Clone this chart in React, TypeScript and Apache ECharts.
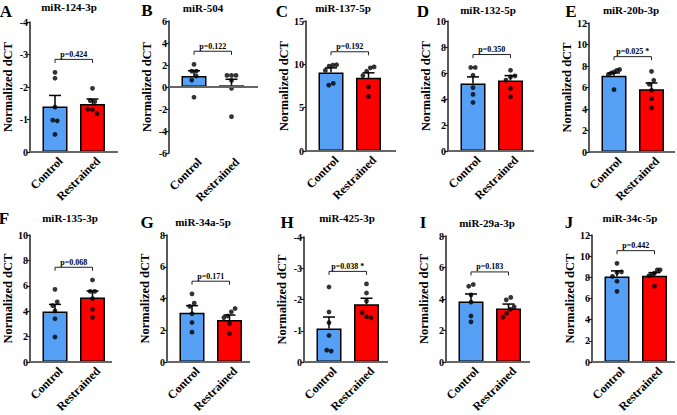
import React, { useEffect, useRef } from "react";
import * as echarts from "echarts";

// ---------- data ----------
const letters = ["A", "B", "C", "D", "E", "F", "G", "H", "I", "J"];
const titles = ["miR-124-3p", "miR-504", "miR-137-5p", "miR-132-5p", "miR-20b-3p", "miR-135-3p", "miR-34a-5p", "miR-425-3p", "miR-29a-3p", "miR-34c-5p"];
const groups = ["Control", "Restrained"];
const yMins = [-4, -6, 0, 0, 0, 0, 0, -4, 0, 0];
const yMaxs = [0, 6, 15, 10, 12, 10, 8, 0, 8, 12];
const yIntervals = [1, 2, 5, 2, 2, 2, 2, 1, 2, 2];
const pLabels = ["p=0.424", "p=0.122", "p=0.192", "p=0.350", "p=0.025 *", "p=0.068", "p=0.171", "p=0.038 *", "p=0.183", "p=0.442"];

const controlMeans = [-1.40, 1.0, 9.05, 5.19, 7.1, 3.97, 3.1, -1.07, 3.85, 8.09];
const restrainedMeans = [-1.48, 0.15, 8.44, 5.42, 5.83, 5.08, 2.65, -1.85, 3.4, 8.15];
const controlSems = [0.34, 0.48, 0.54, 0.51, 0.25, 0.57, 0.45, 0.37, 0.47, 0.52];
const restrainedSems = [0.15, 0.55, 0.58, 0.38, 0.59, 0.51, 0.31, 0.19, 0.28, 0.3];

const controlPoints = [
  [-2.45, -2.27, -1.38, -0.98, -0.96, -0.54],
  [2.05, 1.45, 1.45, 1.0, 0.63, -0.93],
  [9.95, 9.9, 9.8, 9.3, 7.8, 7.6],
  [6.42, 6.42, 5.83, 4.88, 4.35, 3.73],
  [7.67, 7.6, 7.44, 7.35, 7.22, 5.8],
  [5.72, 4.74, 4.44, 4.03, 3.41, 1.97],
  [4.29, 3.71, 3.51, 3.04, 2.49, 1.88],
  [-2.4, -1.6, -1.26, -0.85, -0.38, -0.35],
  [4.92, 4.81, 4.26, 3.8, 2.92, 2.55],
  [9.32, 8.52, 8.46, 8.09, 7.63, 6.68],
];
const restrainedPoints = [
  [-1.96, -1.58, -1.55, -1.32, -1.3, -1.18],
  [1.05, 1.05, 1.05, 0.6, -0.12, -2.7],
  [9.7, 9.6, 9.2, 8.7, 7.4, 6.3],
  [6.21, 5.78, 5.7, 5.45, 4.81, 4.17],
  [7.5, 6.67, 6.3, 5.74, 4.96, 4.09],
  [6.46, 5.56, 5.56, 5.0, 4.15, 3.51],
  [3.37, 3.16, 2.9, 2.8, 2.43, 1.78],
  [-2.5, -2.21, -1.95, -1.58, -1.45, -1.41],
  [4.1, 3.95, 3.5, 3.35, 3.1, 2.85],
  [8.71, 8.71, 8.4, 8.22, 8.15, 7.17],
];

// ---------- layout ----------
const layout = [
  { l: 30, t: 22, w: 88, h: 130, tx: 69, ty: 7, lx: 6, ly: 11 },
  { l: 169, t: 21, w: 89, h: 132, tx: 203, ty: 8, lx: 147, ly: 10 },
  { l: 306, t: 21, w: 90, h: 130, tx: 343, ty: 8, lx: 282, ly: 11 },
  { l: 448, t: 21, w: 86, h: 130, tx: 488, ty: 10, lx: 423, ly: 11 },
  { l: 589, t: 23, w: 86, h: 129, tx: 631, ty: 10, lx: 571, ly: 11 },
  { l: 30, t: 235, w: 82, h: 130, tx: 70, ty: 218, lx: 4, ly: 218 },
  { l: 167, t: 235, w: 83, h: 131, tx: 203, ty: 222, lx: 147, ly: 222 },
  { l: 304, t: 237, w: 84, h: 129, tx: 347, ty: 218, lx: 287, ly: 222 },
  { l: 446, t: 236, w: 84, h: 130, tx: 487, ty: 223, lx: 423, ly: 222 },
  { l: 592, t: 235, w: 83, h: 130, tx: 630, ty: 218, lx: 569, ly: 222 },
];

const FONT = "Liberation Serif";
const BLUE = "#55a0f4";
const RED = "#ff0000";
const FIRST_OFFSET = 25; // px from y axis to first bar centre
const SPACING = 37.5; // px between bar centres
const JITTER_STEP = 0.12;
const LABEL_SHIFT = 0.15; // rotated category labels sit slightly right of bar centre

function jitter(values: number[], pxPerUnit: number): number[] {
  const idx = values.map((_, i) => i).sort((a, b) => values[a] - values[b]);
  const offs = new Array(values.length).fill(0);
  let group: number[] = [idx[0]];
  const flush = () => {
    const n = group.length;
    const step = n > 1 ? Math.min(JITTER_STEP, 0.3 / (n - 1)) : 0;
    group.forEach((k, j) => (offs[k] = (j - (n - 1) / 2) * step));
  };
  for (let i = 1; i < idx.length; i++) {
    if ((values[idx[i]] - values[idx[i - 1]]) * pxPerUnit < 4.5) group.push(idx[i]);
    else {
      flush();
      group = [idx[i]];
    }
  }
  flush();
  return offs;
}

function errorRender(params: any, api: any) {
  const x = api.value(0);
  const m = api.value(1);
  const s = api.value(2);
  const top = m < 0 ? m - s : m + s;
  const p0 = api.coord([x, m]);
  const p1 = api.coord([x, top]);
  const st = { stroke: "#000", lineWidth: 1.5 };
  return {
    type: "group",
    children: [
      { type: "line", shape: { x1: p0[0], y1: p0[1], x2: p1[0], y2: p1[1] }, style: st },
      { type: "line", shape: { x1: p1[0] - 6, y1: p1[1], x2: p1[0] + 6, y2: p1[1] }, style: st },
    ],
  };
}

function buildOption() {
  const grid: any[] = [];
  const xAxis: any[] = [];
  const yAxis: any[] = [];
  const series: any[] = [];
  const graphic: any[] = [];

  titles.forEach((title, i) => {
    const L = layout[i];
    const yMin = yMins[i];
    const yMax = yMaxs[i];
    const neg = yMax <= 0;
    const range = yMax - yMin;
    const pxPerUnit = L.h / range;
    const xMin = -FIRST_OFFSET / SPACING;
    const xMax = xMin + L.w / SPACING;

    grid.push({ left: L.l, top: L.t, width: L.w, height: L.h });
    xAxis.push({
      gridIndex: i,
      type: "value",
      min: xMin,
      max: xMax,
      axisLine: { show: false, onZero: false },
      axisTick: { show: false },
      splitLine: { show: false },
      axisLabel: {
        customValues: [0 + LABEL_SHIFT, 1 + LABEL_SHIFT],
        formatter: (v: number) => groups[Math.round(v)] ?? "",
        rotate: 45,
        margin: 7,
        fontFamily: FONT,
        fontWeight: "bold",
        fontSize: 12,
        color: "#000",
      },
    });
    yAxis.push({
      gridIndex: i,
      type: "value",
      min: yMin,
      max: yMax,
      interval: yIntervals[i],
      inverse: neg,
      name: "Normalized dCT",
      nameLocation: "middle",
      nameGap: 16,
      nameTextStyle: { fontFamily: FONT, fontWeight: "bold", fontSize: 12.5, color: "#000" },
      axisLine: { show: true, onZero: false, lineStyle: { color: "#222", width: 1.5 } },
      axisTick: { show: true, inside: false, length: 3, lineStyle: { color: "#222", width: 1.2 } },
      splitLine: { show: false },
      axisLabel: { margin: 2, fontFamily: FONT, fontWeight: "bold", fontSize: 10, color: "#000" },
    });

    series.push({
      type: "bar",
      xAxisIndex: i,
      yAxisIndex: i,
      barWidth: 25,
      z: 2,
      itemStyle: { borderColor: "#000", borderWidth: 1.5 },
      data: [
        { value: [0, controlMeans[i]], itemStyle: { color: BLUE } },
        { value: [1, restrainedMeans[i]], itemStyle: { color: RED } },
      ],
      markLine: {
        silent: true,
        symbol: "none",
        label: { show: false },
        lineStyle: { color: "#666", width: 2, type: "solid" },
        data: [{ yAxis: 0 }],
      },
    });

    series.push({
      type: "custom",
      xAxisIndex: i,
      yAxisIndex: i,
      z: 3,
      itemStyle: { color: "#000" },
      encode: { x: 0, y: 1 },
      renderItem: errorRender,
      data: [
        [0, controlMeans[i], controlSems[i]],
        [1, restrainedMeans[i], restrainedSems[i]],
      ],
    });

    const cj = jitter(controlPoints[i], pxPerUnit);
    const rj = jitter(restrainedPoints[i], pxPerUnit);
    const pts: number[][] = [];
    controlPoints[i].forEach((v, k) => pts.push([0 + cj[k], v]));
    restrainedPoints[i].forEach((v, k) => pts.push([1 + rj[k], v]));
    series.push({
      type: "scatter",
      xAxisIndex: i,
      yAxisIndex: i,
      z: 4,
      symbolSize: 4.8,
      itemStyle: { color: "#000" },
      data: pts,
    });

    const all = controlPoints[i].concat(restrainedPoints[i]);
    const level = neg ? Math.min(...all) - 0.1 * range : Math.max(...all) + 0.1 * range;
    const label = pLabels[i];
    series.push({
      type: "custom",
      xAxisIndex: i,
      yAxisIndex: i,
      z: 5,
      itemStyle: { color: "#000" },
      encode: { x: 0, y: 2 },
      data: [[0, 1, level]],
      renderItem: (params: any, api: any) => {
        const a = api.coord([api.value(0), api.value(2)]);
        const b = api.coord([api.value(1), api.value(2)]);
        return {
          type: "group",
          children: [
            {
              type: "polyline",
              shape: { points: [[a[0], a[1] + 3.5], [a[0], a[1]], [b[0], b[1]], [b[0], b[1] + 3.5]] },
              style: { stroke: "#222", lineWidth: 1, fill: "none" },
            },
            {
              type: "text",
              x: (a[0] + b[0]) / 2,
              y: a[1] - 1,
              style: {
                text: label,
                align: "center",
                verticalAlign: "bottom",
                fontFamily: FONT,
                fontWeight: "bold",
                fontSize: 8,
                fill: "#000",
              },
            },
          ],
        };
      },
    });

    graphic.push({
      type: "text",
      x: L.tx,
      y: L.ty,
      style: { text: title, align: "center", verticalAlign: "middle", fontFamily: FONT, fontWeight: "bold", fontSize: 11, fill: "#000" },
    });
    graphic.push({
      type: "text",
      x: L.lx,
      y: L.ly,
      style: { text: letters[i], align: "center", verticalAlign: "middle", fontFamily: FONT, fontWeight: "bold", fontSize: 17, fill: "#000" },
    });
  });

  return {
    animation: false,
    backgroundColor: "#fff",
    textStyle: { fontFamily: FONT },
    grid,
    xAxis,
    yAxis,
    series,
    graphic,
  };
}

export default function App() {
  const ref = useRef<HTMLDivElement>(null);
  useEffect(() => {
    if (!ref.current) return;
    const chart = echarts.init(ref.current, null, { renderer: "svg" });
    chart.setOption(buildOption() as any);
    return () => chart.dispose();
  }, []);
  return <div ref={ref} style={{ position: "absolute", left: 0, top: 0, width: 677, height: 415 }} />;
}
